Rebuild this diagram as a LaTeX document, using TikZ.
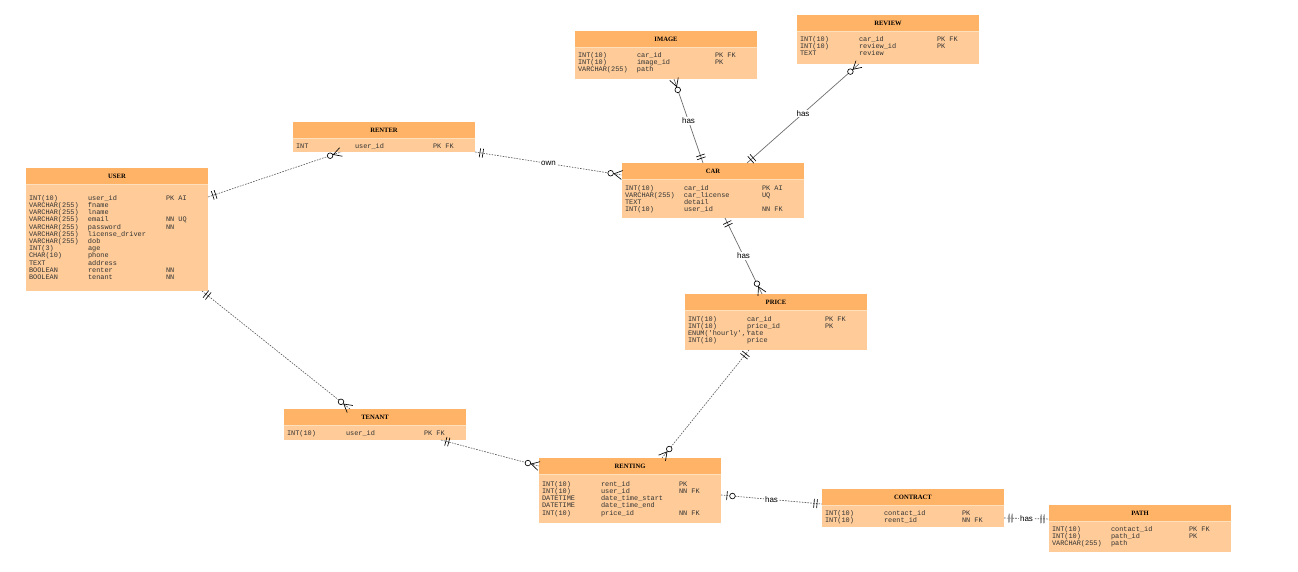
\documentclass[tikz,border=0pt]{standalone}
\usepackage{fontspec}
\setmonofont{Liberation Mono}
\newfontfamily\headf{Liberation Serif}
\newfontfamily\lblf{Liberation Sans}
\usetikzlibrary{calc}
\definecolor{headc}{RGB}{255,179,102}
\definecolor{bodyc}{RGB}{255,204,153}
\definecolor{sepc}{RGB}{255,224,188}
\definecolor{linec}{RGB}{85,85,85}
\definecolor{solidc}{RGB}{110,110,110}
\newcommand\rw[3]{#1&#2&#3\\}
\newcommand\erd[7]{%
 \node[tbody,minimum height=#4pt,anchor=north west] (#1) at (#2,#3) {};
 \node[thead,anchor=north west] (#1-h) at (#1.north west) {#5};
 \draw[sepline] (#1-h.south west) -- (#1-h.south east);
 \node[trows,anchor=north west] (#1-r) at ($(#1.north west)+(3,#6-#3-2.7)$) {\begin{tabular}{@{}p{59pt}@{}p{78pt}@{}l@{}}#7\end{tabular}};
}
\newcommand\mbar[3]{\draw[mk] ($(#1)!#3!(#2)!4.5pt!90:(#2)$) -- ($(#1)!#3!(#2)!4.5pt!-90:(#2)$);}
\newcommand\mone[2]{\mbar{#1}{#2}{5pt}\mbar{#1}{#2}{8pt}}
\newcommand\mmany[2]{\draw[mk] ($(#1)!4.5pt!90:(#2)$) -- ($(#1)!8pt!(#2)$) -- ($(#1)!4.5pt!-90:(#2)$);
  \draw[mk,fill=white] ($(#1)!11.5pt!(#2)$) circle (2.8pt);}
\newcommand\mzo[2]{\mbar{#1}{#2}{6pt}\draw[mk,fill=white] ($(#1)!11.5pt!(#2)$) circle (2.8pt);}
\tikzset{
 tbody/.style={rectangle,fill=bodyc,draw=none,minimum width=182pt,inner sep=0pt,outer sep=0pt},
 thead/.style={rectangle,fill=headc,draw=none,minimum width=182pt,minimum height=16pt,inner sep=0pt,outer sep=0pt,font=\headf\bfseries\fontsize{6.6}{7}\selectfont},
 sepline/.style={draw=sepc,line width=0.8pt},
 trows/.style={inner sep=0pt,outer sep=0pt,font=\ttfamily\fontsize{6.9}{7.2}\selectfont,text=black!80},
 dline/.style={draw=linec,line width=0.6pt,dash pattern=on 1.6pt off 1.2pt},
 sline/.style={draw=solidc,line width=0.7pt},
 mk/.style={draw=black,line width=0.65pt},
 lbl/.style={fill=white,inner sep=0.8pt,font=\lblf\fontsize{8}{9}\selectfont,text=black}
}
\begin{document}
\begin{tikzpicture}[x=1pt,y=-1pt]
\useasboundingbox (0,0) rectangle (1298,572);
\fill[white] (0,0) rectangle (1298,572);
% tables
\erd{user}{26}{168}{123}{USER}{198}{%
\rw{INT(10)}{user\_id}{PK AI}
\rw{VARCHAR(255)}{fname}{}
\rw{VARCHAR(255)}{lname}{}
\rw{VARCHAR(255)}{email}{NN UQ}
\rw{VARCHAR(255)}{password}{NN}
\rw{VARCHAR(255)}{license\_driver}{}
\rw{VARCHAR(255)}{dob}{}
\rw{INT(3)}{age}{}
\rw{CHAR(10)}{phone}{}
\rw{TEXT}{address}{}
\rw{BOOLEAN}{renter}{NN}
\rw{BOOLEAN}{tenant}{NN}}
\erd{renter}{293}{122}{30}{RENTER}{146}{%
\rw{INT}{user\_id}{PK FK}}
\erd{image}{575}{31}{48}{IMAGE}{55}{%
\rw{INT(10)}{car\_id}{PK FK}
\rw{INT(10)}{image\_id}{PK}
\rw{VARCHAR(255)}{path}{}}
\erd{review}{797}{15}{49}{REVIEW}{39}{%
\rw{INT(10)}{car\_id}{PK FK}
\rw{INT(10)}{review\_id}{PK}
\rw{TEXT}{review}{}}
\erd{car}{622}{163}{55}{CAR}{188}{%
\rw{INT(10)}{car\_id}{PK AI}
\rw{VARCHAR(255)}{car\_license}{UQ}
\rw{TEXT}{detail}{}
\rw{INT(10)}{user\_id}{NN FK}}
\erd{price}{685}{294}{56}{PRICE}{319}{%
\rw{INT(10)}{car\_id}{PK FK}
\rw{INT(10)}{price\_id}{PK}
\rw{ENUM('hourly','}{rate}{}
\rw{INT(10)}{price}{}}
\erd{tenant}{284}{409}{31}{TENANT}{433}{%
\rw{INT(10)}{user\_id}{PK FK}}
\erd{renting}{539}{458}{65}{RENTING}{484}{%
\rw{INT(10)}{rent\_id}{PK}
\rw{INT(10)}{user\_id}{NN FK}
\rw{DATETIME}{date\_time\_start}{}
\rw{DATETIME}{date\_time\_end}{}
\rw{INT(10)}{price\_id}{NN FK}}
\erd{contract}{822}{489}{38}{CONTRACT}{513}{%
\rw{INT(10)}{contact\_id}{PK}
\rw{INT(10)}{reent\_id}{NN FK}}
\erd{path}{1049}{505}{47}{PATH}{529}{%
\rw{INT(10)}{contact\_id}{PK FK}
\rw{INT(10)}{path\_id}{PK}
\rw{VARCHAR(255)}{path}{}}
% connector end points
\coordinate (u1) at ($(user.north east)+(0,29)$);
\coordinate (r1) at ($(renter.south west)+(48,0)$);
\coordinate (r2) at (renter.south east);
\coordinate (c1) at ($(car.north west)+(0,12)$);
\coordinate (i1) at ($(image.south west)+(99,0)$);
\coordinate (c2) at ($(car.north west)+(81,0)$);
\coordinate (v1) at ($(review.south west)+(62,0)$);
\coordinate (c3) at ($(car.north west)+(125,0)$);
\coordinate (c4) at ($(car.south west)+(103,0)$);
\coordinate (p1) at ($(price.north west)+(77,0)$);
\coordinate (u2) at ($(user.south west)+(176,0)$);
\coordinate (t1) at ($(tenant.north west)+(66,0)$);
\coordinate (t2) at ($(tenant.south west)+(157,0)$);
\coordinate (g1) at ($(renting.north west)+(0,8)$);
\coordinate (p2) at ($(price.south west)+(64,0)$);
\coordinate (g2) at ($(renting.north west)+(123,0)$);
\coordinate (g3) at ($(renting.north east)+(0,37)$);
\coordinate (k1) at ($(contract.north west)+(0,15)$);
\coordinate (k2) at ($(contract.north east)+(0,29)$);
\coordinate (h1) at ($(path.north west)+(0,14)$);
% connectors
\draw[dline] (u1) -- (r1);
\draw[dline] (r2) -- node[lbl]{own} (c1);
\draw[sline] (i1) -- node[lbl]{has} (c2);
\draw[sline] (v1) -- node[lbl]{has} (c3);
\draw[sline] (c4) -- node[lbl]{has} (p1);
\draw[dline] (u2) -- (t1);
\draw[dline] (t2) -- (g1);
\draw[dline] (p2) -- (g2);
\draw[dline] (g3) -- node[lbl]{has} (k1);
\draw[dline] (k2) -- node[lbl]{has} (h1);
% markers
\mone{u1}{r1} \mmany{r1}{u1}
\mone{r2}{c1} \mmany{c1}{r2}
\mmany{i1}{c2} \mone{c2}{i1}
\mmany{v1}{c3} \mone{c3}{v1}
\mone{c4}{p1} \mmany{p1}{c4}
\mone{u2}{t1} \mmany{t1}{u2}
\mone{t2}{g1} \mmany{g1}{t2}
\mone{p2}{g2} \mmany{g2}{p2}
\mzo{g3}{k1} \mone{k1}{g3}
\mone{k2}{h1} \mone{h1}{k2}
\end{tikzpicture}
\end{document}
